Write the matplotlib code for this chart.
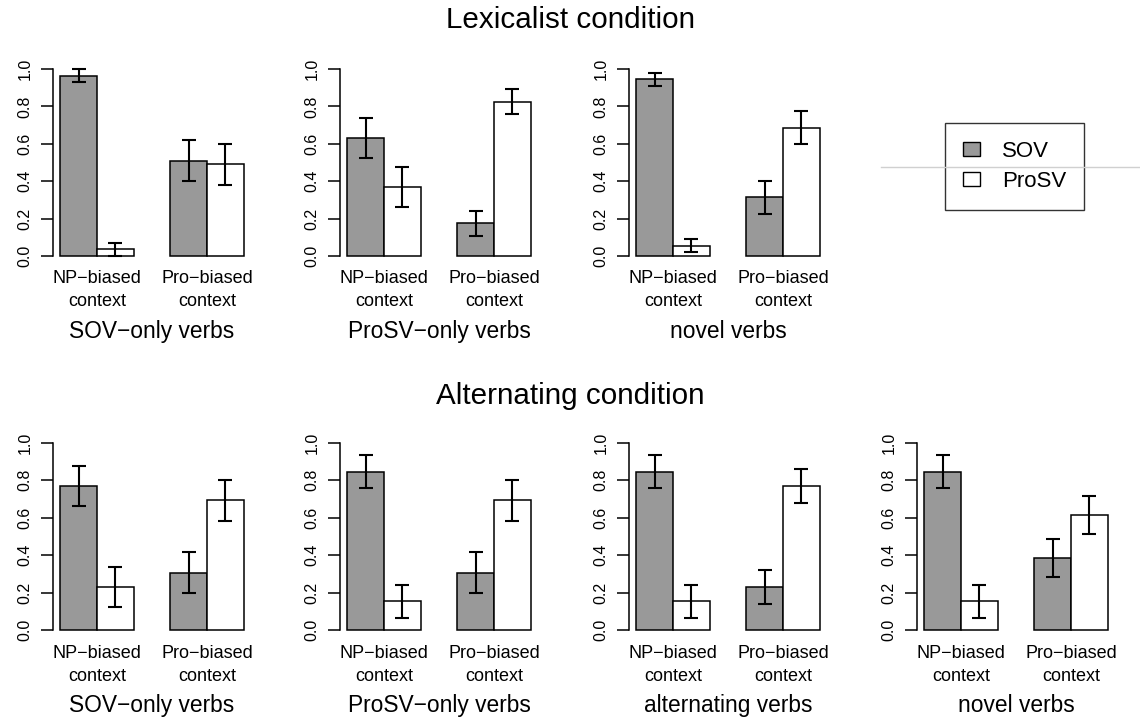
import matplotlib
matplotlib.use("Agg")
import matplotlib.pyplot as plt
from matplotlib.patches import Patch
from matplotlib.lines import Line2D

plt.rcParams['font.family'] = ['Liberation Sans', 'DejaVu Sans']

# data: each panel has [NP-biased, Pro-biased] values
contexts = ["NP\u2212biased\ncontext", "Pro\u2212biased\ncontext"]
series = ["SOV", "ProSV"]

lex_titles = ["SOV\u2212only verbs", "ProSV\u2212only verbs", "novel verbs"]
lex_sov = [[0.965, 0.51], [0.63, 0.175], [0.945, 0.315]]
lex_prosv = [[0.035, 0.49], [0.37, 0.825], [0.055, 0.685]]
lex_sov_err = [[0.035, 0.11], [0.107, 0.068], [0.035, 0.088]]
lex_prosv_err = [[0.035, 0.11], [0.107, 0.068], [0.035, 0.088]]

alt_titles = ["SOV\u2212only verbs", "ProSV\u2212only verbs", "alternating verbs", "novel verbs"]
alt_sov = [[0.77, 0.308], [0.846, 0.308], [0.846, 0.23], [0.846, 0.385]]
alt_prosv = [[0.23, 0.692], [0.154, 0.692], [0.154, 0.77], [0.154, 0.615]]
alt_sov_err = [[0.107, 0.107], [0.088, 0.107], [0.088, 0.092], [0.088, 0.102]]
alt_prosv_err = [[0.107, 0.107], [0.088, 0.107], [0.088, 0.092], [0.088, 0.102]]

W, H = 1140, 721
fig = plt.figure(figsize=(W / 100, H / 100), dpi=100)


def add_ax(left, top, width, height):
    return fig.add_axes([left / W, 1 - (top + height) / H, width / W, height / H])


def draw_panel(ax, sov, prosv, sov_err, prosv_err, title):
    x_sov = [1.5, 4.5]
    x_pro = [2.5, 5.5]
    ekw = dict(elinewidth=1.5, capthick=1.5, ecolor='black')
    ax.bar(x_sov, sov, width=1, color='#999999', edgecolor='black', linewidth=1.1,
           yerr=sov_err, capsize=5, error_kw=ekw)
    ax.bar(x_pro, prosv, width=1, color='white', edgecolor='black', linewidth=1.1,
           yerr=prosv_err, capsize=5, error_kw=ekw)
    ax.set_xlim(0.8, 6.2)
    ax.set_ylim(-0.04, 1.04)
    for s in ['top', 'right', 'bottom']:
        ax.spines[s].set_visible(False)
    ax.spines['left'].set_bounds(0, 1)
    ax.spines['left'].set_linewidth(1.1)
    ax.set_yticks([0, 0.2, 0.4, 0.6, 0.8, 1.0])
    ax.set_yticklabels(['0.0', '0.2', '0.4', '0.6', '0.8', '1.0'], rotation=90, va='center')
    ax.tick_params(axis='y', length=8.5, width=1.1, labelsize=11.5, pad=6)
    ax.set_xticks([2, 5])
    ax.set_xticklabels(contexts, fontsize=13, linespacing=1.45)
    ax.tick_params(axis='x', length=0, pad=5)
    ax.set_xlabel(title, fontsize=16.4, labelpad=7)


lefts = [53, 340, 629, 917]
for i in range(3):
    ax = add_ax(lefts[i], 61.5, 198, 202)
    draw_panel(ax, lex_sov[i], lex_prosv[i], lex_sov_err[i], lex_prosv_err[i], lex_titles[i])
for i in range(4):
    ax = add_ax(lefts[i], 435.2, 198, 202.6)
    draw_panel(ax, alt_sov[i], alt_prosv[i], alt_sov_err[i], alt_prosv_err[i], alt_titles[i])

fig.text(0.5, 1 - 20 / H, "Lexicalist condition", ha='center', va='center', fontsize=21.3)
fig.text(0.5, 1 - 396 / H, "Alternating condition", ha='center', va='center', fontsize=21.3)

handles = [Patch(facecolor='#999999', edgecolor='black', label=series[0]),
           Patch(facecolor='white', edgecolor='black', label=series[1])]
leg = fig.legend(handles=handles, loc='center', bbox_to_anchor=((947 + 1082) / 2 / W, 1 - 166.5 / H),
                 fancybox=False, edgecolor='black', fontsize=16, handlelength=0.75,
                 handleheight=0.6, handletextpad=1.0, labelspacing=0.4, borderpad=0.8,
                 borderaxespad=0)
leg.get_frame().set_linewidth(1.0)

fig.add_artist(Line2D([881 / W, 1.0], [1 - 167 / H] * 2, color='#d0d0d0', lw=1, zorder=10))

fig.savefig('out.png', dpi=100)
